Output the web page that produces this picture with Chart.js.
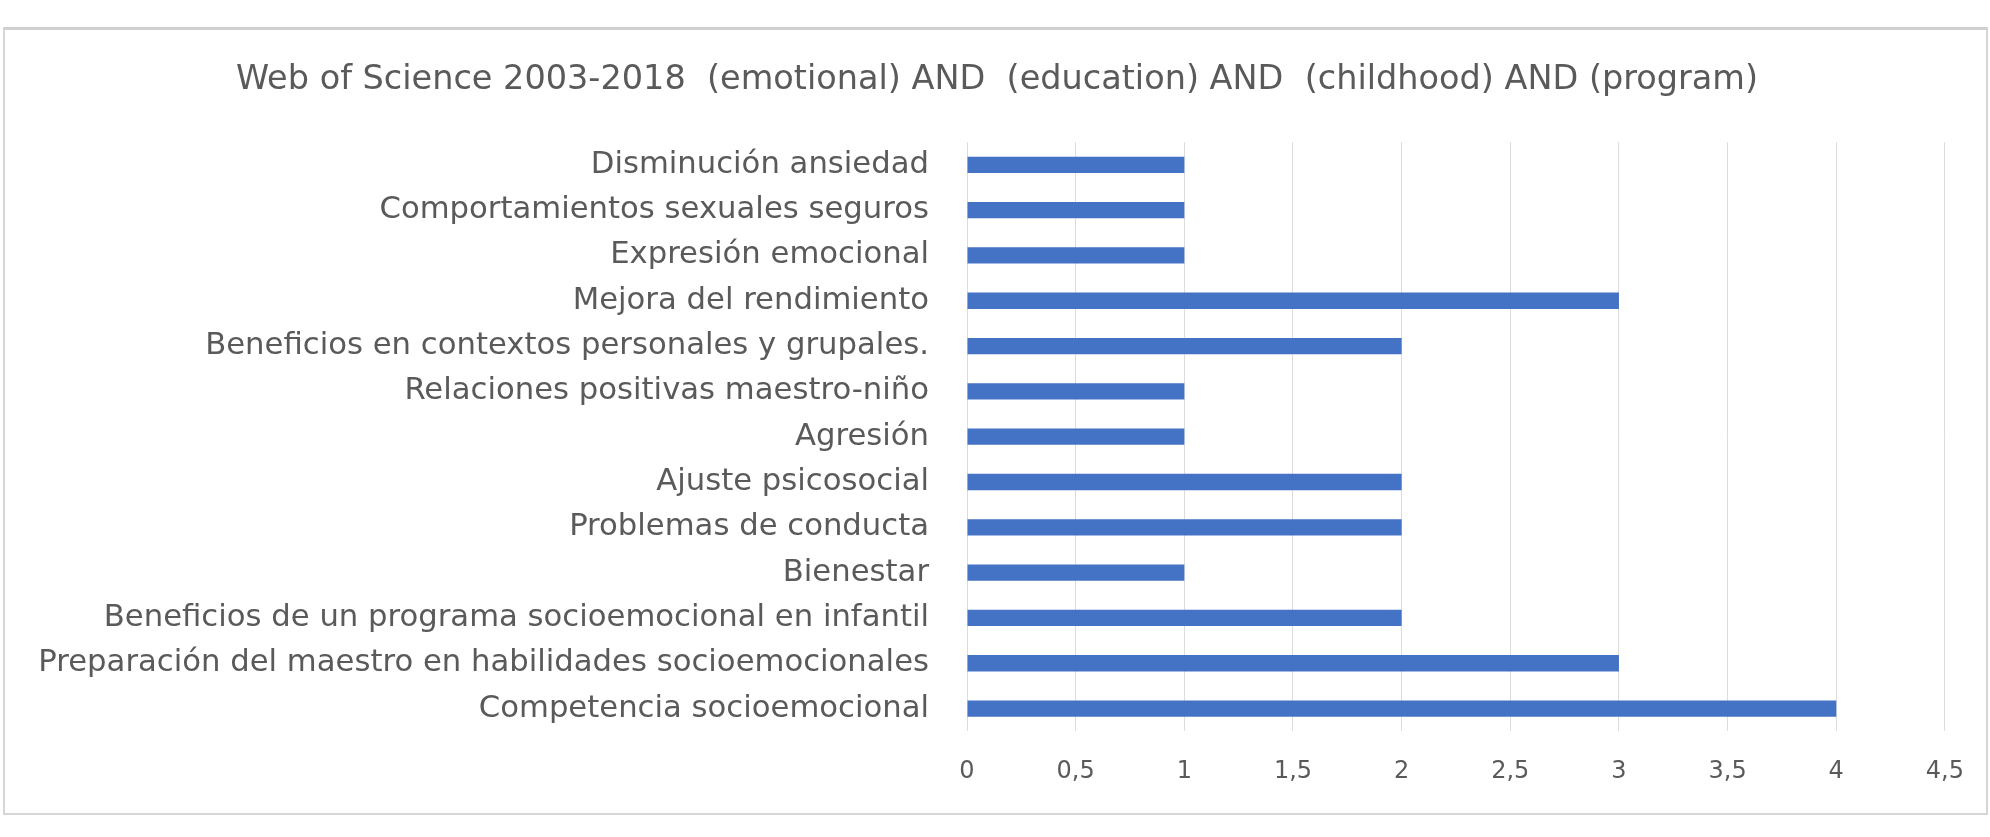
<!DOCTYPE html>
<html>
<head>
<meta charset="utf-8">
<style>
  html, body { margin: 0; padding: 0; background: #fff; }
  #frame {
    position: absolute; left: 3px; top: 27px; width: 1981px; height: 783px;
    border: 2px solid #d6d6d6; border-top: 3px solid #d0d0d0;
  }
  #wrap { position: absolute; left: 0; top: 0; width: 1990px; height: 837px; }
</style>
</head>
<body>
<div id="frame"></div>
<div id="wrap"><canvas id="topicChart"></canvas></div>
<script src="https://cdn.jsdelivr.net/npm/chart.js"></script>
<script>
    const chartTitle = 'Web of Science 2003-2018  (emotional) AND  (education) AND  (childhood) AND (program)';

    const categories = [
        'Disminución ansiedad',
        'Comportamientos sexuales seguros',
        'Expresión emocional',
        'Mejora del rendimiento',
        'Beneficios en contextos personales y grupales.',
        'Relaciones positivas maestro-niño',
        'Agresión',
        'Ajuste psicosocial',
        'Problemas de conducta',
        'Bienestar',
        'Beneficios de un programa socioemocional en infantil',
        'Preparación del maestro en habilidades socioemocionales',
        'Competencia socioemocional'
    ];

    const counts = [1, 1, 1, 3, 2, 1, 1, 2, 2, 1, 2, 3, 4];

    const xTickLabels = ['0', '0,5', '1', '1,5', '2', '2,5', '3', '3,5', '4', '4,5'];

    const textGrey = '#5a5a5a';

    const ctx = document.getElementById('topicChart').getContext('2d');
    const topicChart = new Chart(ctx, {
        type: 'bar',
        data: {
            labels: categories,
            datasets: [{
                label: 'Artículos',
                data: counts,
                backgroundColor: '#4472C4',
                borderWidth: 0,
                barPercentage: 0.72,
                categoryPercentage: 0.5
            }]
        },
        options: {
            indexAxis: 'y',
            responsive: true,
            maintainAspectRatio: false,
            animation: false,
            layout: { padding: { left: 40, right: 36, top: 0, bottom: 25 } },
            plugins: {
                legend: { display: false },
                tooltip: { enabled: false },
                title: {
                    display: true,
                    text: chartTitle,
                    color: textGrey,
                    font: { family: 'DejaVu Sans', size: 33.5, weight: 'normal' },
                    padding: { top: 60, bottom: 42 }
                }
            },
            scales: {
                x: {
                    min: 0,
                    max: 4.5,
                    ticks: {
                        stepSize: 0.5,
                        color: textGrey,
                        padding: 26,
                        font: { family: 'DejaVu Sans', size: 24 },
                        callback: (value, i) => xTickLabels[i]
                    },
                    grid: { color: '#dcdcdc', lineWidth: 1, drawTicks: false },
                    border: { display: false }
                },
                y: {
                    ticks: {
                        color: textGrey,
                        padding: 38,
                        font: { family: 'DejaVu Sans', size: 30.7 }
                    },
                    grid: { display: false, drawTicks: false },
                    border: { display: false },
                    afterFit: (scale) => { scale.width = 927; }
                }
            }
        }
    });
</script>
</body>
</html>
